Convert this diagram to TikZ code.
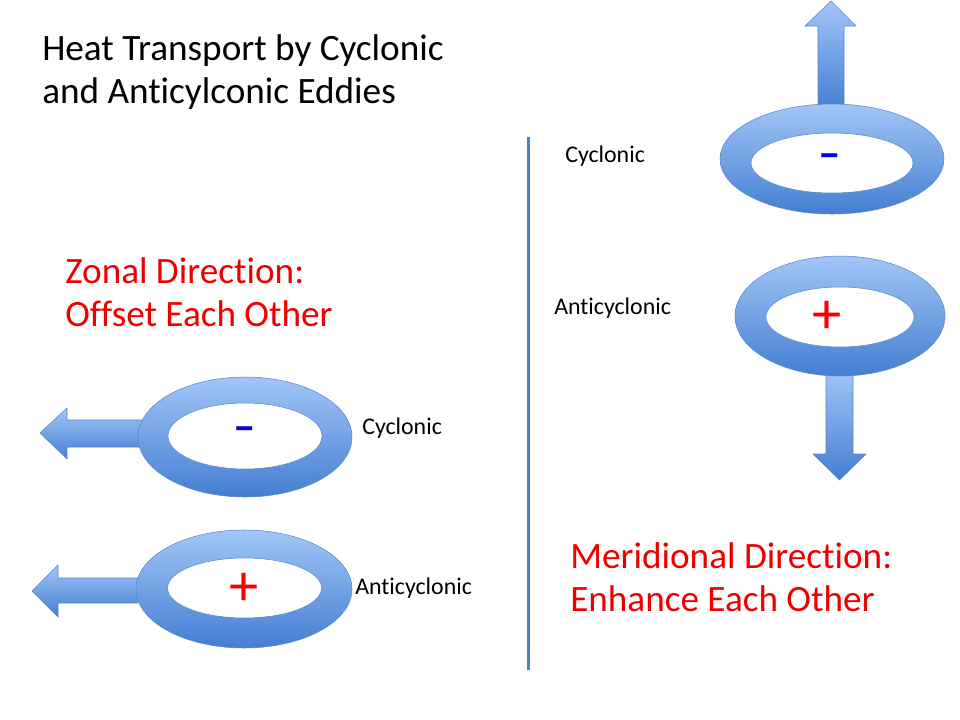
\documentclass[tikz,border=0pt]{standalone}
\usepackage{fontspec}
\setmainfont{Carlito}[Ligatures=NoCommon]
\usepackage{tikz}
\usetikzlibrary{shapes.geometric}
\usetikzlibrary{positioning}
\definecolor{ringtop}{RGB}{162,198,247}
\definecolor{ringbot}{RGB}{68,126,210}
\definecolor{ringedge}{RGB}{90,134,198}
\definecolor{divider}{RGB}{79,129,189}
\definecolor{minusblue}{RGB}{0,0,235}
\tikzstyle{ring}=[ellipse,draw=ringedge,thin,top color=ringtop,bottom color=ringbot,inner sep=0pt]
\tikzstyle{hole}=[ellipse,draw=ringedge,thin,fill=white,inner sep=0pt]
\tikzstyle{flow}=[draw=ringedge,thin,top color=ringtop,bottom color=ringbot]
\tikzstyle{minus}=[text=minusblue,font=\fontsize{34}{34}\bfseries,inner sep=0pt]
\tikzstyle{plus}=[text=red,font=\fontsize{44}{44}\selectfont,inner sep=0pt]
\tikzstyle{eddyname}=[anchor=west,font=\fontsize{18}{22}\selectfont,inner sep=0pt]
\tikzstyle{heading}=[anchor=west,align=left,font=\fontsize{28}{32.5}\selectfont,inner sep=0pt]
\tikzstyle{remark}=[heading,text={rgb,255:red,238;green,0;blue,0}]

\begin{document}
\begin{tikzpicture}[x=0.75bp,y=-0.75bp]
\useasboundingbox (0,0) rectangle (960,720);
\node [heading] (title) at (42,72) {Heat Transport by Cyclonic\\and Anticylconic Eddies};
\node [remark] (zonal) at (65,292) {Zonal Direction:\\Offset Each Other};
\node [remark] (merid) at (570,577) {Meridional Direction:\\Enhance Each Other};
% divider
\coordinate (divtop) at (528,137);
\coordinate (divbot) at (528,670);
\draw [divider,line width=2.25bp] (divtop) -- (divbot);
% zonal pair, arrows go under the rings
\draw [flow] (145,420) -- (67,420) -- (67,408) -- (40,433) -- (67,459) -- (67,447) -- (145,447) -- cycle;
\node [ring,minimum width=160.5bp,minimum height=90bp] (zc) at (245,437) {};
\node [hole,minimum width=115.5bp,minimum height=49.5bp] (zch) at (245,436) {};
\node [minus] (zcs) at (245,434) {–};
\node [eddyname] (zcl) at (362,428) {Cyclonic};
\draw [flow] (138,578) -- (58,578) -- (58,565) -- (32,591) -- (58,617) -- (58,603) -- (138,603) -- cycle;
\node [ring,minimum width=162bp,minimum height=88.5bp] (za) at (244,589) {};
\node [hole,minimum width=115.5bp,minimum height=45bp] (zah) at (244.5,588) {};
\node [plus] (zas) at (244,589) {+};
\node [eddyname] (zal) at (355,588) {Anticyclonic};
% meridional pair
\draw [flow] (818,110) -- (818,26) -- (805,26) -- (831,1) -- (856,26) -- (844,26) -- (844,110) -- cycle;
\node [ring,minimum width=168bp,minimum height=82.5bp] (mc) at (832,159) {};
\node [hole,minimum width=121.5bp,minimum height=45bp] (mch) at (832,163) {};
\node [minus] (mcs) at (830,161) {–};
\node [eddyname] (mcl) at (565,156) {Cyclonic};
\draw [flow] (826,370) -- (826,454) -- (813,454) -- (839.5,480) -- (866,454) -- (853,454) -- (853,370) -- cycle;
\node [ring,minimum width=157.5bp,minimum height=90bp] (ma) at (840,316) {};
\node [hole,minimum width=111bp,minimum height=45bp] (mah) at (840,317) {};
\node [plus] (mas) at (827,317) {+};
\node [eddyname] (mal) at (554,308) {Anticyclonic};
\end{tikzpicture}
\end{document}
